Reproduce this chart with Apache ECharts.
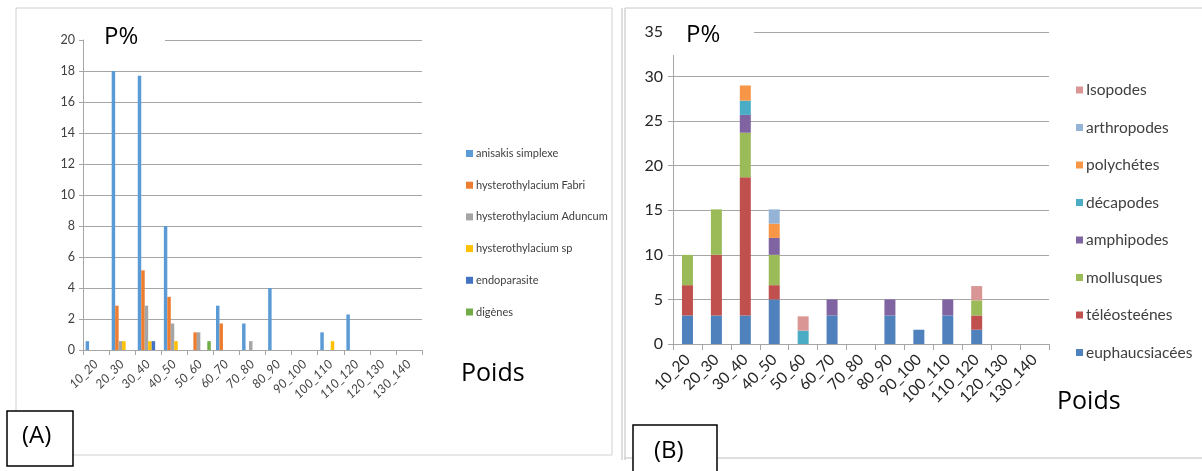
<!DOCTYPE html>
<html><head><meta charset="utf-8">
<script src="https://cdn.jsdelivr.net/npm/echarts@6/dist/echarts.min.js"></script>
<style>html,body{margin:0;padding:0;background:#fff}#c{width:1202px;height:471px}</style>
</head><body><div id="c"></div>
<script>
const categories = ['10_20','20_30','30_40','40_50','50_60','60_70','70_80','80_90','90_100','100_110','110_120','120_130','130_140'];

// Panel A (parasites)
const seriesNamesA = ['anisakis simplexe','hysterothylacium Fabri','hysterothylacium Aduncum','hysterothylacium sp','endoparasite','digènes'];
const anisakis = [0.57, 18, 17.7, 8, 0, 2.86, 1.71, 4, 0, 1.14, 2.29, 0, 0];
const fabri    = [0, 2.86, 5.14, 3.43, 1.14, 1.71, 0, 0, 0, 0, 0, 0, 0];
const aduncum  = [0, 0.57, 2.86, 1.71, 1.14, 0, 0.57, 0, 0, 0, 0, 0, 0];
const hystSp   = [0, 0.57, 0.57, 0.57, 0, 0, 0, 0, 0, 0.57, 0, 0, 0];
const endopar  = [0, 0, 0.57, 0, 0, 0, 0, 0, 0, 0, 0, 0, 0];
const digenes  = [0, 0, 0, 0, 0.57, 0, 0, 0, 0, 0, 0, 0, 0];
const valuesA = [anisakis, fabri, aduncum, hystSp, endopar, digenes];
const colorsA = ['#5B9BD5','#ED7D31','#A5A5A5','#FFC000','#4472C4','#70AD47'];

// Panel B (prey, stacked bottom -> top)
const seriesNamesB = ['euphaucsiacées','téléosteénes','mollusques','amphipodes','décapodes','polychétes','arthropodes','Isopodes'];
const euphau   = [3.2, 3.2, 3.2, 5.0, 0, 3.2, 0, 3.2, 1.6, 3.2, 1.6, 0, 0];
const teleost  = [3.4, 6.8, 15.5, 1.6, 0, 0, 0, 0, 0, 0, 1.6, 0, 0];
const mollusq  = [3.4, 5.1, 5.0, 3.4, 0, 0, 0, 0, 0, 0, 1.7, 0, 0];
const amphip   = [0, 0, 2.0, 1.9, 0, 1.8, 0, 1.8, 0, 1.8, 0, 0, 0];
const decap    = [0, 0, 1.6, 0, 1.5, 0, 0, 0, 0, 0, 0, 0, 0];
const polych   = [0, 0, 1.7, 1.6, 0, 0, 0, 0, 0, 0, 0, 0, 0];
const arthrop  = [0, 0, 0, 1.6, 0, 0, 0, 0, 0, 0, 0, 0, 0];
const isopod   = [0, 0, 0, 0, 1.6, 0, 0, 0, 0, 0, 1.6, 0, 0];
const valuesB = [euphau, teleost, mollusq, amphip, decap, polych, arthrop, isopod];
const colorsB = ['#4F81BD','#C0504D','#9BBB59','#8064A2','#4BACC6','#F79646','#95B3D7','#D99694'];

const narrow = "Lato,'Open Sans',sans-serif";
const big = "'Open Sans',sans-serif";
const chart = echarts.init(document.getElementById('c'));

const seriesA = seriesNamesA.map((n,i)=>({
  name:n, type:'bar', xAxisIndex:0, yAxisIndex:0, data:valuesA[i],
  itemStyle:{color:colorsA[i]}, barGap:'0%', barCategoryGap:'20%', animation:false
}));
const seriesB = seriesNamesB.map((n,i)=>({
  name:n, type:'bar', xAxisIndex:1, yAxisIndex:1, data:valuesB[i], stack:'B',
  itemStyle:{color:colorsB[i]}, barWidth:11, animation:false
}));

chart.setOption({
  animation:false,
  grid:[
    {left:83, top:40, width:339, height:310},
    {left:673, top:32, width:376, height:312}
  ],
  xAxis:[
    {type:'category', gridIndex:0, data:categories,
     axisLine:{lineStyle:{color:'#a6a6a6'}}, axisTick:{show:true, length:5, lineStyle:{color:'#a6a6a6'}},
     axisLabel:{rotate:45, fontSize:12.5, color:'#404040', fontFamily:narrow, fontStyle:'italic', interval:0, margin:12}},
    {type:'category', gridIndex:1, data:categories,
     axisLine:{lineStyle:{color:'#a6a6a6'}}, axisTick:{show:true, length:6, lineStyle:{color:'#a6a6a6'}},
     axisLabel:{rotate:45, fontSize:15.5, color:'#262626', fontFamily:narrow, interval:0, margin:13}}
  ],
  yAxis:[
    {type:'value', gridIndex:0, min:0, max:20, interval:2,
     axisLine:{show:true, lineStyle:{color:'#a6a6a6'}}, axisTick:{show:true, length:4, lineStyle:{color:'#a6a6a6'}},
     splitLine:{lineStyle:{color:'#a6a6a6'}},
     axisLabel:{fontSize:12.5, color:'#404040', fontFamily:narrow, margin:8}},
    {type:'value', gridIndex:1, min:0, max:35, interval:5,
     axisLine:{show:true, lineStyle:{color:'#a6a6a6'}}, axisTick:{show:true, length:5, lineStyle:{color:'#a6a6a6'}},
     splitLine:{lineStyle:{color:'#a6a6a6'}},
     axisLabel:{fontSize:16, color:'#262626', fontFamily:narrow, margin:10}}
  ],
  legend:[
    {data:seriesNamesA, orient:'vertical', left:461, top:143, itemWidth:7, itemHeight:7, itemGap:20.7,
     icon:'rect', textStyle:{fontSize:11, color:'#404040', fontFamily:narrow, padding:[0,0,0,-2]}},
    {data:seriesNamesB.slice().reverse(), orient:'vertical', left:1071, top:77, itemWidth:7, itemHeight:7, itemGap:21.5,
     icon:'rect', textStyle:{fontSize:15.5, color:'#404040', fontFamily:narrow, padding:[0,0,0,-2]}}
  ],
  graphic:[
    {type:'rect', shape:{x:16, y:8, width:596, height:447}, style:{fill:'none', stroke:'#d0d0d0', lineWidth:1}, z:-10},
    {type:'line', shape:{x1:622, y1:8, x2:622, y2:460}, style:{stroke:'#bdbdbd', lineWidth:1}, z:-10},
    {type:'line', shape:{x1:625, y1:8, x2:625, y2:460}, style:{stroke:'#bdbdbd', lineWidth:1}, z:-10},
    {type:'line', shape:{x1:625, y1:8, x2:1202, y2:8}, style:{stroke:'#c8c8c8', lineWidth:1}, z:-10},
    {type:'line', shape:{x1:625, y1:458, x2:1202, y2:458}, style:{stroke:'#bdbdbd', lineWidth:1}, z:-10},
    {type:'rect', shape:{x:84, y:22, width:81, height:30}, style:{fill:'#fff'}, z:50},
    {type:'text', left:104, top:25, style:{text:'P%', fontSize:24, fill:'#000', fontFamily:big}, z:51},
    {type:'rect', shape:{x:666, y:9, width:88, height:46}, style:{fill:'#fff'}, z:50},
    {type:'text', left:686, top:23, style:{text:'P%', fontSize:24, fill:'#000', fontFamily:big}, z:51},
    {type:'text', left:461, top:361, style:{text:'Poids', fontSize:25, fill:'#000', fontFamily:big}, z:51},
    {type:'text', left:1057, top:389, style:{text:'Poids', fontSize:25, fill:'#000', fontFamily:big}, z:51},
    {type:'rect', shape:{x:7, y:411, width:66, height:55}, style:{fill:'#fff', stroke:'#000', lineWidth:1.5}, z:60},
    {type:'text', left:22, top:424, style:{text:'(A)', fontSize:24, fill:'#000', fontFamily:big}, z:61},
    {type:'rect', shape:{x:633, y:425, width:84, height:52}, style:{fill:'#fff', stroke:'#000', lineWidth:1.5}, z:60},
    {type:'text', left:654, top:439, style:{text:'(B)', fontSize:24, fill:'#000', fontFamily:big}, z:61}
  ],
  series: seriesA.concat(seriesB)
});
</script></body></html>
